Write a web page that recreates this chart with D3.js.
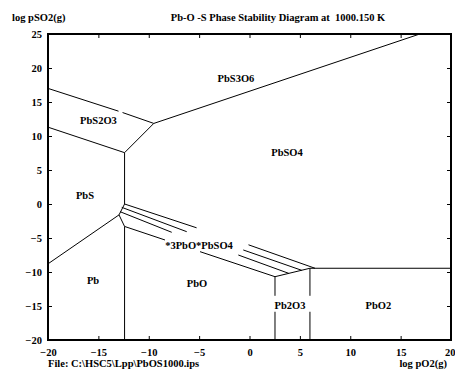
<!DOCTYPE html>
<html lang="en">
	<head>
		<meta charset="utf-8">
		<title>Pb-O-S Phase Stability Diagram</title>
		<script type="text/javascript" src="https://d3js.org/d3.v7.min.js"></script>
		<style type="text/css">
			body { margin: 0; background: #fff; }
			text { font-family: "Liberation Serif", "Times New Roman", serif; font-weight: bold; fill: #000; }
		</style>
	</head>
	<body>
		<script type="text/javascript">

			// axis ticks
			var xTicks = [-20, -15, -10, -5, 0, 5, 10, 15, 20];
			var yTicks = [-20, -15, -10, -5, 0, 5, 10, 15, 20, 25];

			// phase boundaries, [log pO2, log pSO2] points (gaps are where the original leaves them)
			var boundaries = [
				[[-20, 17.0], [-13.0, 13.65]],
				[[-12.6, 13.45], [-9.5, 11.85]],
				[[-20, 11.3], [-12.4, 7.55]],
				[[-12.4, 7.55], [-9.5, 11.85]],
				[[-9.5, 11.85], [16.9, 25]],
				[[-12.4, 7.55], [-12.4, 0]],
				[[-20, -8.8], [-12.95, -1.6]],
				[[-12.4, 0], [-12.95, -1.6], [-12.4, -3.3]],
				[[-12.4, -3.3], [-12.4, -20]],
				[[-12.4, 0], [-5.25, -3.5]],
				[[-0.1, -6.0], [6.5, -9.45]],
				[[-12.68, -0.49], [-6.23, -4.07]],
				[[-0.62, -6.76], [5.18, -9.75]],
				[[-12.85, -1.13], [-7.72, -4.16]],
				[[-1.11, -7.5], [3.9, -10.2]],
				[[-12.4, -3.3], [-8.39, -5.29]],
				[[-4.91, -7.01], [2.53, -10.69]],
				[[2.53, -10.69], [6.0, -9.45]],
				[[2.53, -10.69], [2.53, -13.5]],
				[[2.53, -15.85], [2.53, -20]],
				[[6.0, -9.45], [6.0, -13.5]],
				[[6.0, -15.85], [6.0, -20]],
				[[6.0, -9.45], [20, -9.45]]
			];

			// phase names and where they sit
			var phaseNames = ["PbS3O6", "PbS2O3", "PbSO4", "PbS", "*3PbO*PbSO4", "Pb", "PbO", "Pb2O3", "PbO2"];
			var phaseX = [-1.34, -14.99, 3.72, -16.33, -5.01, -15.53, -5.21, 4.02, 12.8];
			var phaseY = [18.5, 12.35, 7.65, 1.32, -6.13, -11.18, -11.6, -14.85, -14.85];

			var w = 455;
			var h = 376;
			var margin = {top: 34, right: 4, bottom: 36, left: 48};

			var svg = d3.select("body")
						.append("svg")
						.attr("width", w)
						.attr("height", h);

			var x = d3.scaleLinear()
						.domain([-20, 20])
						.range([margin.left, w - margin.right]);

			var y = d3.scaleLinear()
						.domain([-20, 25])
						.range([h - margin.bottom, margin.top]);

			var line = d3.line()
						.x(function(d){ return x(d[0]); })
						.y(function(d){ return y(d[1]); });

			// axes, ticks pointing inwards
			var gx = svg.append("g")
						.attr("transform", "translate(0," + y(-20) + ")")
						.call(d3.axisBottom(x).tickValues(xTicks).tickSizeInner(-4).tickSizeOuter(0).tickPadding(9));

			var gy = svg.append("g")
						.attr("transform", "translate(" + x(-20) + ",0)")
						.call(d3.axisLeft(y).tickValues(yTicks).tickSizeInner(-4).tickSizeOuter(0).tickPadding(6));

			svg.append("g")
				.attr("transform", "translate(0," + y(25) + ")")
				.call(d3.axisTop(x).tickValues(xTicks).tickSizeInner(-4).tickSizeOuter(0).tickFormat(""));

			svg.append("g")
				.attr("transform", "translate(" + x(20) + ",0)")
				.call(d3.axisRight(y).tickValues(yTicks).tickSizeInner(-4).tickSizeOuter(0).tickFormat(""));

			svg.selectAll(".domain").remove();
			svg.selectAll(".tick line").attr("stroke", "#000").attr("stroke-width", 1);
			svg.selectAll(".tick text")
				.style("font-size", "10.5px")
				.style("font-family", "'Liberation Serif', serif")
				.style("font-weight", "bold");

			// last x label sits at the window edge: keep it inside
			gx.selectAll(".tick text")
				.filter(function(d){ return d === 20; })
				.attr("text-anchor", "end")
				.attr("x", 4);

			// frame
			svg.append("rect")
				.attr("x", x(-20))
				.attr("y", y(25))
				.attr("width", x(20) - x(-20))
				.attr("height", y(-20) - y(25))
				.attr("fill", "none")
				.attr("stroke", "#000")
				.attr("stroke-width", 2);

			// boundary lines
			svg.selectAll("path.boundary")
				.data(boundaries)
				.enter()
				.append("path")
				.attr("class", "boundary")
				.attr("d", line)
				.attr("fill", "none")
				.attr("stroke", "#000")
				.attr("stroke-width", 1);

			// phase labels
			svg.selectAll("text.phase")
				.data(phaseNames)
				.enter()
				.append("text")
				.attr("class", "phase")
				.attr("x", function(d, i){ return x(phaseX[i]); })
				.attr("y", function(d, i){ return y(phaseY[i]); })
				.attr("dy", "0.35em")
				.attr("text-anchor", "middle")
				.style("font-size", "10.5px")
				.text(function(d){ return d; });

			// titles
			svg.append("text")
				.attr("x", 278)
				.attr("y", 21)
				.attr("text-anchor", "middle")
				.style("font-size", "10.5px")
				.style("white-space", "pre")
				.text("Pb-O -S Phase Stability Diagram at  1000.150 K");

			svg.append("text")
				.attr("x", 12)
				.attr("y", 21)
				.style("font-size", "10.5px")
				.text("log pSO2(g)");

			svg.append("text")
				.attr("x", 48)
				.attr("y", 367)
				.style("font-size", "10.5px")
				.text("File: C:\\HSC5\\Lpp\\PbOS1000.ips");

			svg.append("text")
				.attr("x", 447)
				.attr("y", 367)
				.attr("text-anchor", "end")
				.style("font-size", "10.5px")
				.text("log pO2(g)");

		</script>
	</body>
</html>
